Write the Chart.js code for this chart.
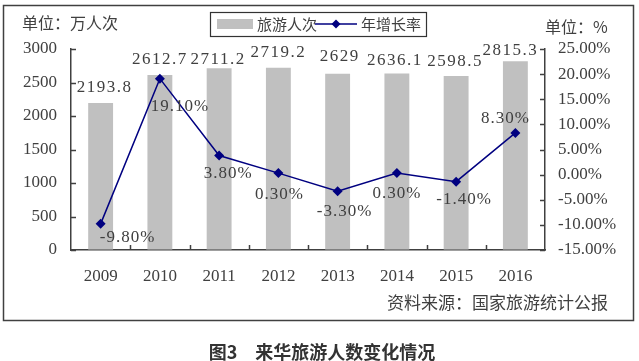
<!DOCTYPE html>
<html>
<head>
<meta charset="utf-8">
<script src="https://cdn.jsdelivr.net/npm/chart.js@4/dist/chart.umd.min.js"></script>
<style>
  body { margin: 0; background: #fff; }
  canvas { display: block; }
</style>
</head>
<body>
<canvas id="tourChart" width="639" height="361"></canvas>
<script>
const years = ['2009', '2010', '2011', '2012', '2013', '2014', '2015', '2016'];
const visitors = [2193.8, 2612.7, 2711.2, 2719.2, 2629, 2636.1, 2598.5, 2815.3];
const growth = [-9.8, 19.1, 3.8, 0.3, -3.3, 0.3, -1.4, 8.3];
const leftTicks = [0, 500, 1000, 1500, 2000, 2500, 3000];
const rightTicks = [-15, -10, -5, 0, 5, 10, 15, 20, 25];

const textColor = '#404040';
const numFont = "'Liberation Serif', 'DejaVu Serif', serif";
const cjkFont = "'Noto Sans CJK SC', sans-serif";

// label nudges (px) so text sits where the original has it
const barLabelDx = [4, 0, -1, 0, 2, -2, -1, -5];
const barLabelDy = [-15, -15, -9, -15, -17, -13, -14, -11];
const lineLabelDx = [27, 20, 9, 1, 7, 0, 8, -10];
const lineLabelDy = [14, 28, 18, 21, 20, 20, 18, -14];

const extras = {
    id: 'extras',
    afterDraw(chart) {
        const c = chart.ctx;
        const area = chart.chartArea;
        const y = chart.scales.y, y1 = chart.scales.y1;
        c.save();

        // outer frame
        c.strokeStyle = '#404040';
        c.lineWidth = 1.5;
        c.strokeRect(3.5, 5.5, 630, 315);

        // tick marks pointing into the plot
        c.beginPath();
        leftTicks.forEach(v => {
            const py = Math.round(y.getPixelForValue(v)) + 0.5;
            c.moveTo(area.left, py); c.lineTo(area.left + 5, py);
        });
        rightTicks.forEach(v => {
            const py = Math.round(y1.getPixelForValue(v)) + 0.5;
            c.moveTo(area.right, py); c.lineTo(area.right - 5, py);
        });
        const step = (area.right - area.left) / years.length;
        for (let i = 1; i < years.length; i++) {
            const px = Math.round(area.left + step * i) + 0.5;
            c.moveTo(px, area.bottom); c.lineTo(px, area.bottom - 5);
        }
        c.stroke();

        // bar value labels
        c.fillStyle = textColor;
        c.font = '17px ' + numFont;
        c.textAlign = 'center';
        c.textBaseline = 'middle';
        c.letterSpacing = '1.5px';
        chart.getDatasetMeta(0).data.forEach((bar, i) => {
            c.fillText(String(visitors[i]), bar.x + barLabelDx[i], bar.y + barLabelDy[i]);
        });
        // growth labels
        c.letterSpacing = '1px';
        chart.getDatasetMeta(1).data.forEach((pt, i) => {
            c.fillText(growth[i].toFixed(2) + '%', pt.x + lineLabelDx[i], pt.y + lineLabelDy[i]);
        });
        c.letterSpacing = '0px';

        // units and source
        c.font = '16px ' + cjkFont;
        c.textAlign = 'left';
        c.fillText('单位：万人次', 22, 23);
        c.fillText('单位：%', 545, 27);
        c.font = '17px ' + cjkFont;
        c.fillText('资料来源：国家旅游统计公报', 387, 303);

        // legend
        const ds = chart.data.datasets;
        c.strokeStyle = '#333';
        c.lineWidth = 1.2;
        c.strokeRect(210.5, 12.5, 216, 24);
        c.fillStyle = ds[0].backgroundColor;
        c.fillRect(217, 19, 36, 10);
        c.fillStyle = textColor;
        c.font = '15px ' + cjkFont;
        c.fillText(ds[0].label, 257, 24);
        c.strokeStyle = ds[1].borderColor;
        c.lineWidth = 1.5;
        c.beginPath(); c.moveTo(315, 24); c.lineTo(357, 24); c.stroke();
        c.fillStyle = ds[1].borderColor;
        c.beginPath();
        c.moveTo(336, 19.5); c.lineTo(340.5, 24); c.lineTo(336, 28.5); c.lineTo(331.5, 24);
        c.closePath(); c.fill();
        c.fillStyle = textColor;
        c.fillText(ds[1].label, 361, 24);

        // caption
        c.fillStyle = '#333';
        c.font = 'bold 18px ' + cjkFont;
        c.textAlign = 'center';
        c.fillText('图3　来华旅游人数变化情况', 322, 352);

        c.restore();
    }
};

new Chart(document.getElementById('tourChart'), {
    type: 'bar',
    data: {
        labels: years,
        datasets: [{
            label: '旅游人次',
            data: visitors,
            backgroundColor: '#c0c0c0',
            yAxisID: 'y',
            categoryPercentage: 1,
            barPercentage: 0.42,
            order: 1
        }, {
            type: 'line',
            label: '年增长率',
            data: growth,
            yAxisID: 'y1',
            borderColor: '#000080',
            backgroundColor: '#000080',
            borderWidth: 1.5,
            pointStyle: 'rectRot',
            pointRadius: 5,
            pointBackgroundColor: '#000080',
            pointBorderWidth: 0,
            tension: 0,
            order: 0
        }]
    },
    options: {
        responsive: false,
        animation: false,
        devicePixelRatio: 1,
        layout: { padding: { top: 49, left: 0, right: 0, bottom: 0 } },
        plugins: {
            legend: { display: false },
            tooltip: { enabled: false }
        },
        scales: {
            x: {
                grid: { drawOnChartArea: false, drawTicks: false },
                border: { color: '#404040', width: 1.5 },
                ticks: { color: textColor, font: { family: numFont, size: 17 }, padding: 16 },
                afterFit: s => { s.height = 111; }
            },
            y: {
                position: 'left',
                min: 0,
                max: 3000,
                grid: { drawOnChartArea: false, drawTicks: false },
                border: { color: '#404040', width: 1.5 },
                ticks: {
                    stepSize: 500,
                    color: textColor,
                    font: { family: numFont, size: 17 },
                    padding: 14,
                    callback: v => String(v)
                },
                afterFit: s => { s.width = 71; }
            },
            y1: {
                position: 'right',
                min: -15,
                max: 25,
                grid: { drawOnChartArea: false, drawTicks: false },
                border: { color: '#404040', width: 1.5 },
                ticks: {
                    stepSize: 5,
                    color: textColor,
                    font: { family: numFont, size: 17 },
                    padding: 13,
                    callback: v => v.toFixed(2) + '%'
                },
                afterFit: s => { s.width = 94; }
            }
        }
    },
    plugins: [extras]
});
</script>
</body>
</html>
